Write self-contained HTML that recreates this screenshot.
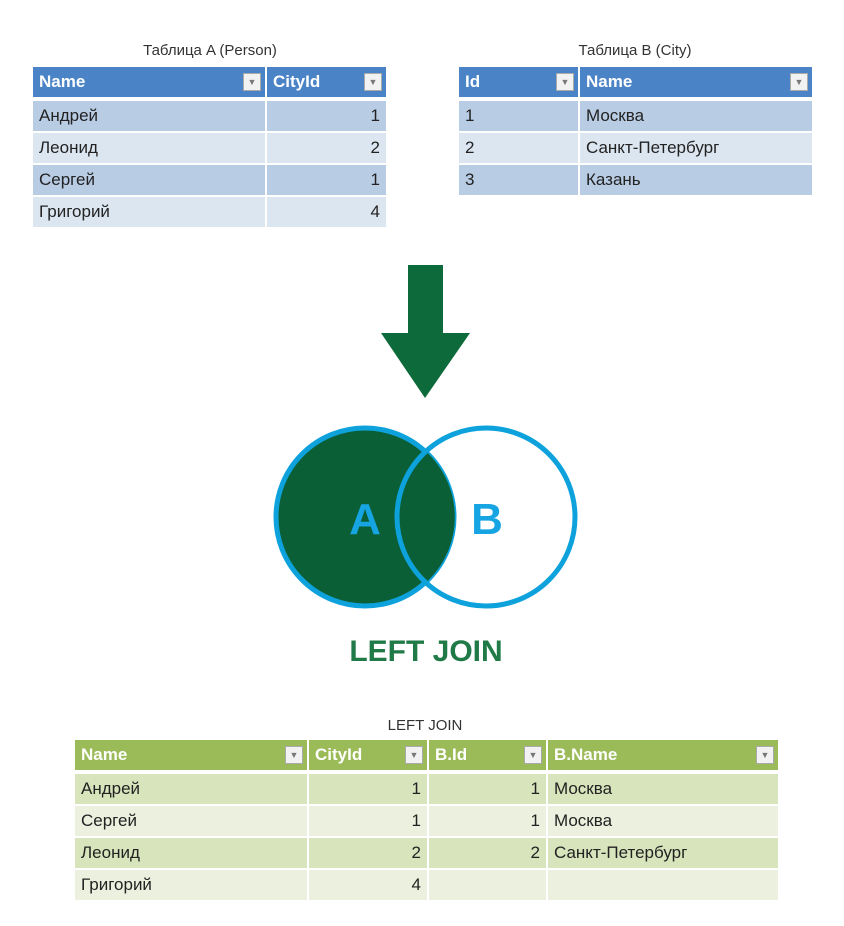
<!DOCTYPE html>
<html><head><meta charset="utf-8"><style>
body{margin:0;width:844px;height:926px;background:#fff;position:relative;overflow:hidden;font-family:"Liberation Sans","DejaVu Sans",sans-serif;}
.abs{position:absolute;}
.cap{position:absolute;font-size:15px;color:#333;text-align:center;}
.c{position:absolute;font-size:17px;color:#222;line-height:30px;box-sizing:border-box;padding:0 6px;white-space:nowrap;}
.h{color:#fff;font-weight:bold;}
.r{text-align:right;}
.dd{position:absolute;width:18px;height:18px;background:#f2f2f2;border:1px solid #aaa;box-sizing:border-box;font-size:9px;color:#777;text-align:center;line-height:16px;}
</style></head><body>
<div class="cap" style="left:60px;top:42px;width:300px">Таблица A (Person)</div>
<div class="cap" style="left:485px;top:42px;width:300px">Таблица B (City)</div>
<div class="cap" style="left:275px;top:717px;width:300px">LEFT JOIN</div>
<div id="tables"></div>
<svg class="abs" style="left:0;top:0" width="844" height="926">
<polygon points="408,265 443,265 443,333 470,333 425,398 381,333 408,333" fill="#0d6a3a"/>
<circle cx="365" cy="517" r="89" fill="#0b5f37" stroke="#0ea2dc" stroke-width="5"/>
<path d="M425.5,451 A89,89 0 0 1 425.5,583 A89,89 0 0 1 425.5,451Z" fill="#0b5f37"/>
<circle cx="486" cy="517" r="89" fill="none" stroke="#0ea2dc" stroke-width="5"/>
<text x="365" y="534" text-anchor="middle" font-size="44" font-weight="bold" fill="#16a4e2" font-family="Liberation Sans, sans-serif">A</text>
<text x="487" y="534" text-anchor="middle" font-size="44" font-weight="bold" fill="#16a4e2" font-family="Liberation Sans, sans-serif">B</text>
<text x="426" y="661" text-anchor="middle" font-size="30" font-weight="bold" fill="#1f7a47" font-family="Liberation Sans, sans-serif">LEFT JOIN</text>
</svg>
<script>
const tA={x:33,y:67,cols:[[33,232,'Name'],[267,119,'CityId']],rows:[['Андрей','1'],['Леонид','2'],['Сергей','1'],['Григорий','4']],align:['l','r'],hc:'#4a84c7',rc:['#b8cce4','#dce6f1'],name:'table-a'};
const tB={x:459,y:67,cols:[[459,119,'Id'],[580,232,'Name']],rows:[['1','Москва'],['2','Санкт-Петербург'],['3','Казань']],align:['l','l'],hc:'#4a84c7',rc:['#b8cce4','#dce6f1'],name:'table-b'};
const tC={x:75,y:740,cols:[[75,232,'Name'],[309,118,'CityId'],[429,117,'B.Id'],[548,230,'B.Name']],rows:[['Андрей','1','1','Москва'],['Сергей','1','1','Москва'],['Леонид','2','2','Санкт-Петербург'],['Григорий','4','','']],align:['l','r','r','l'],hc:'#9bbb59',rc:['#d8e4bc','#ebf1de'],name:'result-table'};
const host=document.getElementById('tables');
[tA,tB,tC].forEach(t=>{
  t.cols.forEach((c,ci)=>{
    const h=document.createElement('div');
    h.className='c h';
    h.style.cssText=`left:${c[0]}px;top:${t.y}px;width:${c[1]}px;height:30px;background:${t.hc}`;
    h.textContent=c[2];
    
    
    host.appendChild(h);
    const d=document.createElement('div');
    d.className='dd';
    d.style.cssText=`left:${c[0]+c[1]-22}px;top:${t.y+6}px`;
    d.textContent='▼';
    
    
    host.appendChild(d);
    t.rows.forEach((r,ri)=>{
      const e=document.createElement('div');
      e.className='c'+(t.align[ci]==='r'?' r':'');
      e.style.cssText=`left:${c[0]}px;top:${t.y+34+ri*32}px;width:${c[1]}px;height:30px;background:${t.rc[ri%2]}`;
      e.textContent=r[ci];
      
      
      host.appendChild(e);
    });
  });
});
</script>
</body></html>
